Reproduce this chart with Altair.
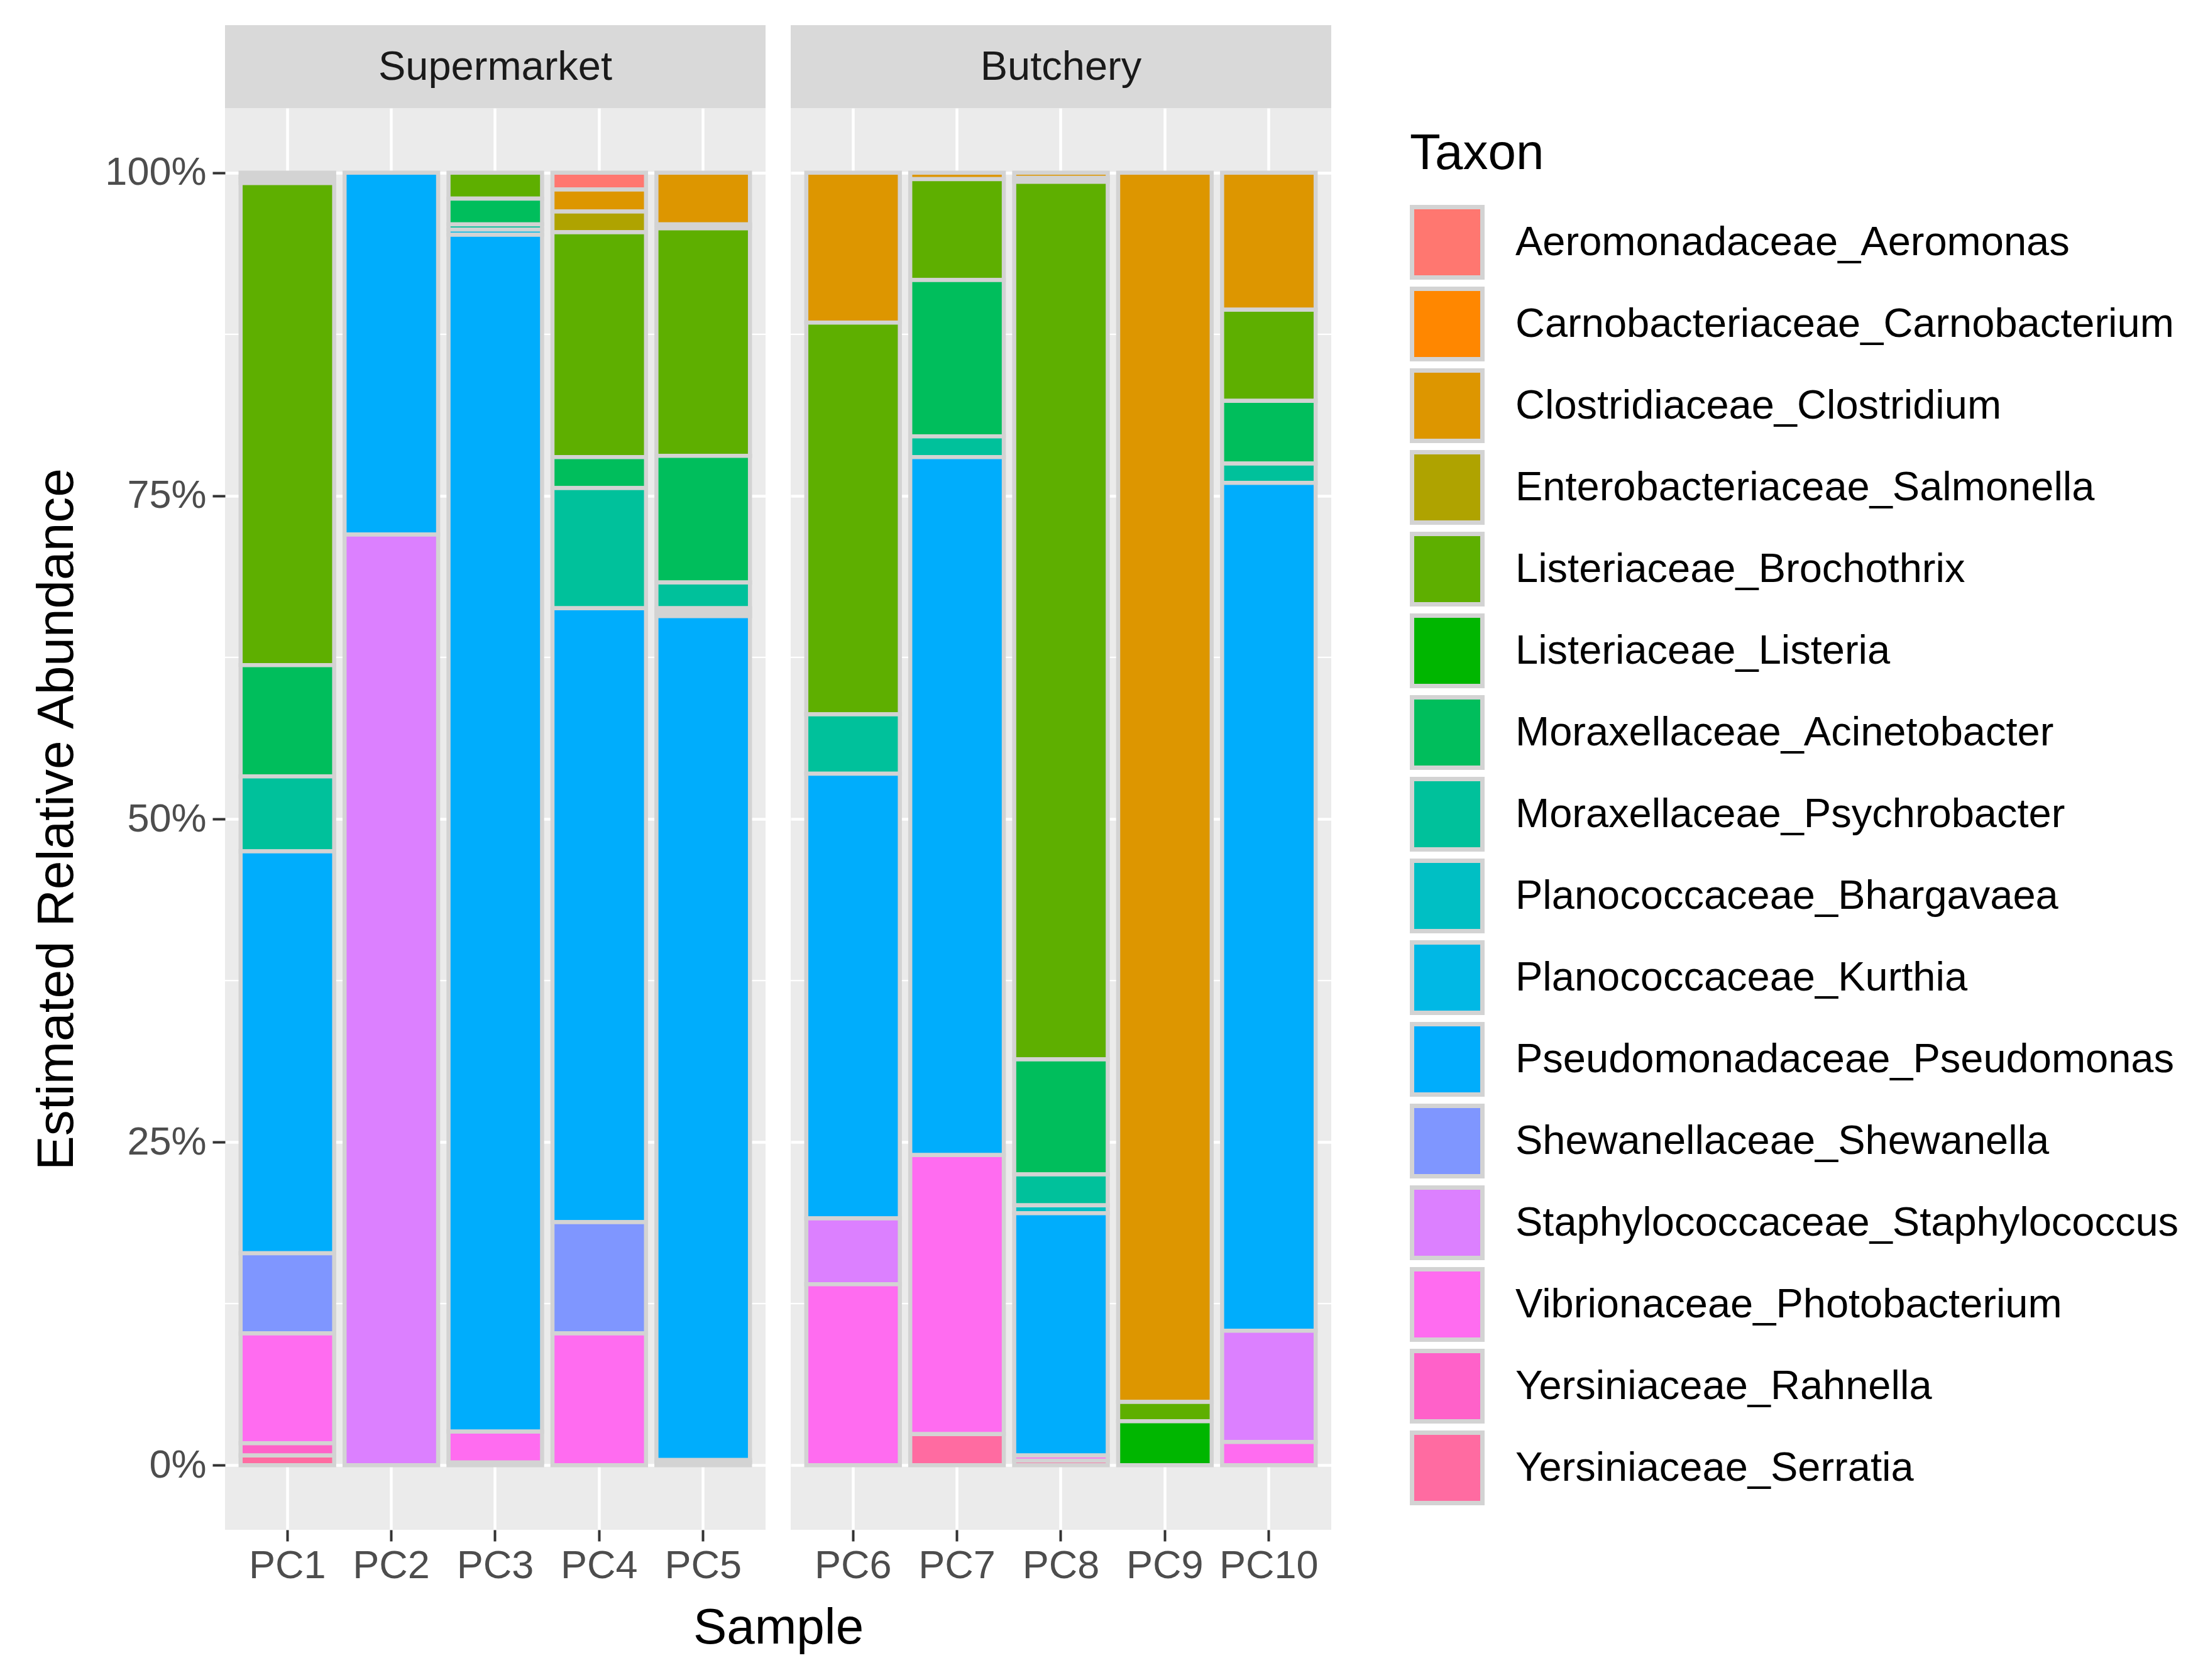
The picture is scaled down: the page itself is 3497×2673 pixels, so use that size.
import altair as alt
import pandas as pd

taxa = [
    "Aeromonadaceae_Aeromonas", "Carnobacteriaceae_Carnobacterium", "Clostridiaceae_Clostridium",
    "Enterobacteriaceae_Salmonella", "Listeriaceae_Brochothrix", "Listeriaceae_Listeria",
    "Moraxellaceae_Acinetobacter", "Moraxellaceae_Psychrobacter", "Planococcaceae_Bhargavaea",
    "Planococcaceae_Kurthia", "Pseudomonadaceae_Pseudomonas", "Shewanellaceae_Shewanella",
    "Staphylococcaceae_Staphylococcus", "Vibrionaceae_Photobacterium", "Yersiniaceae_Rahnella",
    "Yersiniaceae_Serratia",
]
taxon_colors = [
    "#FF7770", "#FF8700", "#DD9600", "#AFA300", "#5EAF00", "#00B600",
    "#00BE5C", "#00C19B", "#00BFC4", "#00B8E5", "#00ADFC", "#7F96FF",
    "#DC80FF", "#FF6CF0", "#FF61C9", "#FF6BA1",
]

samples = ["PC1", "PC2", "PC3", "PC4", "PC5", "PC6", "PC7", "PC8", "PC9", "PC10"]
markets = ["Supermarket"] * 5 + ["Butchery"] * 5

# relative abundance (%) per taxon, in the order of `taxa`
PC1 = [0.3, 0.2, 0.3, 0, 37.3, 0, 8.6, 5.8, 0, 0, 31.1, 6.2, 0, 8.5, 0.95, 0.75]
PC2 = [0, 0, 0, 0, 0, 0, 0, 0, 0, 0, 28.0, 0, 72.0, 0, 0, 0]
PC3 = [0, 0, 0, 0, 2.0, 0, 2.0, 0.4, 0, 0.4, 92.6, 0, 0, 2.4, 0.2, 0]
PC4 = [1.3, 0, 1.7, 1.6, 17.4, 0, 2.4, 9.3, 0, 0, 47.5, 8.6, 0, 10.2, 0, 0]
PC5 = [0, 0, 4.0, 0.3, 17.6, 0, 9.8, 2.0, 0.3, 0.3, 65.3, 0, 0, 0.2, 0, 0.2]
PC6 = [0, 0, 11.6, 0, 30.3, 0, 0, 4.6, 0, 0, 34.4, 0, 5.1, 14.0, 0, 0]
PC7 = [0, 0, 0.5, 0, 7.8, 0, 12.1, 1.6, 0, 0, 54.0, 0, 0, 21.6, 0, 2.4]
PC8 = [0, 0, 0.4, 0.3, 67.9, 0, 8.9, 2.4, 0.6, 0, 18.75, 0, 0, 0.4, 0, 0.35]
PC9 = [0, 0, 95.1, 0, 1.5, 3.4, 0, 0, 0, 0, 0, 0, 0, 0, 0, 0]
PC10 = [0, 0, 10.6, 0, 7.05, 0, 4.85, 1.5, 0, 0, 65.6, 0, 8.6, 1.8, 0, 0]
abundance = {"PC1": PC1, "PC2": PC2, "PC3": PC3, "PC4": PC4, "PC5": PC5,
             "PC6": PC6, "PC7": PC7, "PC8": PC8, "PC9": PC9, "PC10": PC10}

y_ticks = [0, 25, 50, 75, 100]
y_minor = [12.5, 37.5, 62.5, 87.5]

rows = []
for s, m in zip(samples, markets):
    for i, (t, v) in enumerate(zip(taxa, abundance[s])):
        if v > 0:
            rows.append({"Sample": s, "Market": m, "Taxon": t, "idx": i, "Abundance": v})
df = pd.DataFrame(rows)
minor_df = pd.DataFrame({"v": y_minor})

FONT = "Liberation Sans"
PW, PH, SH = 860, 2262, 132
yscale = alt.Scale(domain=[-5, 105], nice=False, zero=False)
color_scale = alt.Scale(domain=taxa, range=taxon_colors)

legend = alt.Legend(
    title="Taxon", orient="none", legendX=1885, legendY=166,
    titleFontSize=80, titleFontWeight="normal", titleColor="black", titleFont=FONT,
    titlePadding=40, titleLimit=1000, labelFontSize=65, labelColor="black", labelFont=FONT,
    labelOffset=49, symbolType="square", symbolSize=12544,
    symbolStrokeColor="#D3D3D3", symbolStrokeWidth=7, symbolOpacity=1,
    rowPadding=-11, padding=0, labelLimit=2000,
)


def panel(market, first):
    d = df[df.Market == market]
    order = [s for s, m in zip(samples, markets) if m == market]
    xaxis = alt.Axis(
        title="Sample" if first else None, titleX=PW + 20, titleFontSize=80,
        titleFontWeight="normal", titleColor="black", titleFont=FONT, titlePadding=28,
        labelAngle=0, labelFontSize=63, labelColor="#4D4D4D", labelFont=FONT, labelPadding=8,
        grid=True, gridColor="white", gridWidth=4.5, bandPosition=0.5,
        domain=False, tickColor="#333333", tickWidth=4, tickSize=18,
    )
    if first:
        yaxis = alt.Axis(
            values=y_ticks, labelExpr="datum.value + '%'", title="Estimated Relative Abundance",
            titleFontSize=82, titleFontWeight="normal", titleColor="black", titleFont=FONT,
            titlePadding=34, labelFontSize=63, labelColor="#4D4D4D", labelFont=FONT,
            labelPadding=10, grid=True, gridColor="white", gridWidth=4.5, domain=False,
            tickColor="#333333", tickWidth=4, tickSize=20,
        )
    else:
        yaxis = alt.Axis(values=y_ticks, labels=False, ticks=False, title=None, grid=True,
                         gridColor="white", gridWidth=4.5, domain=False)
    minor = alt.Chart(minor_df).mark_rule(color="white", strokeWidth=2.2).encode(
        y=alt.Y("v:Q", scale=yscale, axis=yaxis, title="Estimated Relative Abundance" if first else None)
    )
    bars = alt.Chart(d).mark_bar(stroke="#D3D3D3", strokeWidth=6.5).encode(
        x=alt.X("Sample:N", sort=order,
                scale=alt.Scale(domain=order, paddingInner=0.1, paddingOuter=0.15), axis=xaxis),
        y=alt.Y("Abundance:Q", stack="zero", scale=yscale, axis=yaxis),
        color=alt.Color("Taxon:N", scale=color_scale, legend=legend),
        order=alt.Order("idx:Q", sort="descending"),
    )
    return alt.layer(minor, bars).properties(
        width=PW, height=PH, view=alt.ViewBackground(fill="#EBEBEB", stroke=None)
    )


def strip(market):
    return alt.Chart(pd.DataFrame({"Market": [market]})).mark_text(
        fontSize=65, color="#1A1A1A", font=FONT, baseline="middle", align="center"
    ).encode(
        text="Market:N", x=alt.value(PW / 2), y=alt.value(67)
    ).properties(width=PW, height=SH, view=alt.ViewBackground(fill="#D9D9D9", stroke=None))


chart = alt.ConcatChart(
    concat=[strip("Supermarket"), strip("Butchery"),
            panel("Supermarket", True), panel("Butchery", False)],
    columns=2,
    spacing={"row": 0, "column": 40},
    bounds="flush",
).resolve_scale(
    color="shared", x="independent"
).properties(
    padding={"left": 41, "top": 32, "right": 10, "bottom": 10},
    background="white",
)

chart.save("out.html", embed_options={"renderer": "svg", "actions": False})
